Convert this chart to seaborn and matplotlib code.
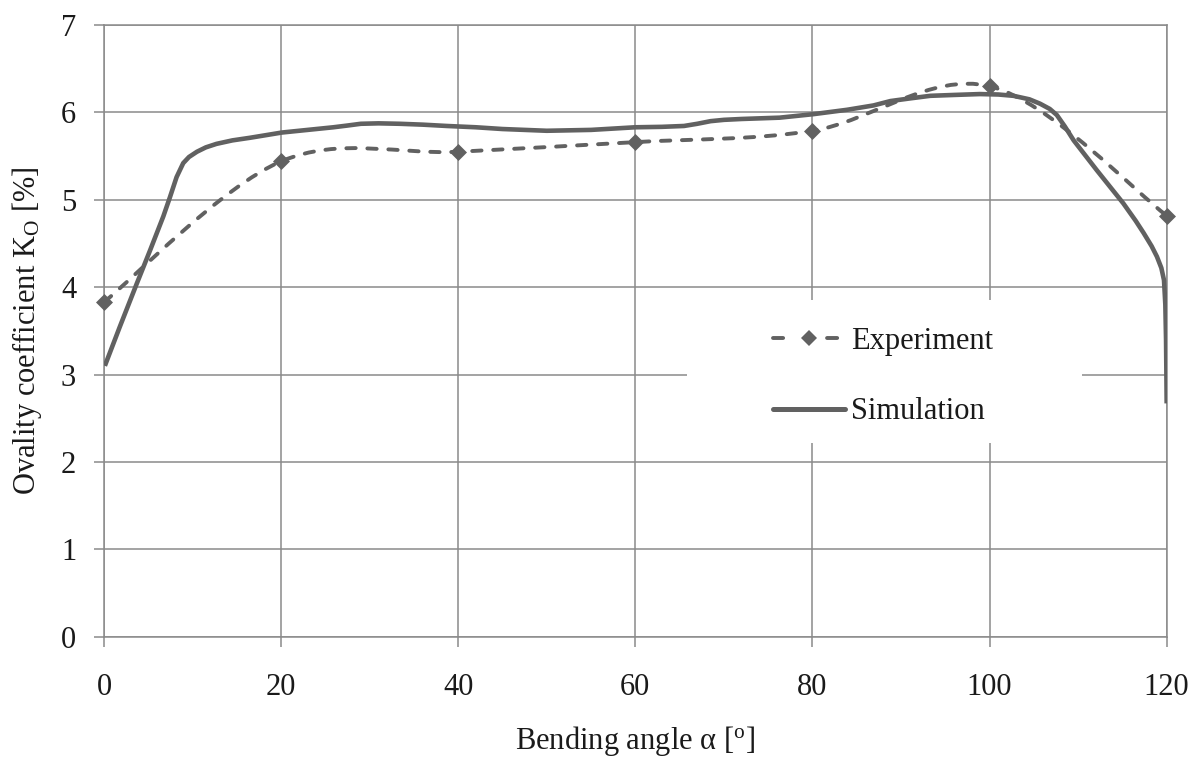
import numpy as np
import pandas as pd
import matplotlib
matplotlib.use("Agg")
import matplotlib.pyplot as plt
from matplotlib.path import Path
from matplotlib.patches import PathPatch, Rectangle
from matplotlib.lines import Line2D
import seaborn as sns

# ---------------- data ----------------
exp_angle = [0, 20, 40, 60, 80, 100, 120]
exp_ko = [3.83, 5.44, 5.55, 5.66, 5.79, 6.30, 4.82]

sim_angle = [0.1, 1.8, 3.7, 5.2, 6.7, 7.45, 8.2, 8.95, 9.6, 10.5, 11.5, 12.7,
             14.5, 16.5, 20.1, 23.0, 25.9, 27.5, 29.0, 31.0, 33.4, 36.0, 38.7,
             42.0, 45.0, 50.0, 55.0, 60.0, 63.0, 65.5, 67.0, 68.5, 70.0, 72.0,
             76.3, 80.1, 83.9, 86.9, 88.8, 91.0, 93.3, 96.0, 98.9, 101.0, 102.7,
             104.5, 105.7, 106.8, 107.6, 108.5, 109.5, 112.1, 115.1, 116.5,
             117.4, 118.3, 118.9, 119.4, 119.7, 119.85, 119.93, 119.97, 120.0]
sim_ko = [3.10, 3.55, 4.04, 4.42, 4.81, 5.03, 5.26, 5.42, 5.49, 5.55, 5.60, 5.64,
          5.68, 5.71, 5.77, 5.80, 5.83, 5.85, 5.87, 5.875, 5.87, 5.86, 5.845,
          5.83, 5.81, 5.79, 5.80, 5.83, 5.835, 5.845, 5.87, 5.90, 5.915, 5.925,
          5.94, 5.98, 6.03, 6.08, 6.13, 6.16, 6.19, 6.20, 6.21, 6.205, 6.19,
          6.15, 6.10, 6.04, 5.97, 5.84, 5.68, 5.34, 4.96, 4.76,
          4.62, 4.47, 4.35, 4.22, 4.08, 3.80, 3.40, 3.00, 2.67]

x_ticks = [0, 20, 40, 60, 80, 100, 120]
y_ticks = [0, 1, 2, 3, 4, 5, 6, 7]
series_names = ["Experiment", "Simulation"]
x_label = "Bending angle \u03b1 [$^{\\mathregular{o}}$]"
y_label = "Ovality coefficient K$_{\\mathregular{O}}$ [%]"

# ---------------- style ----------------
sns.set_theme(style="white")
plt.rcParams["font.family"] = ["Liberation Serif", "DejaVu Serif"]
plt.rcParams["mathtext.fontset"] = "custom"
plt.rcParams["mathtext.rm"] = "Liberation Serif"
plt.rcParams["mathtext.it"] = "Liberation Serif:italic"

LINE = "#616161"
GRID = "#8a8a8a"
TEXT = "#1a1a1a"
FS = 22
DASH = (0, (2.4, 3.0))
LEG_DASH = (0, (2.6, 11.3))

fig = plt.figure(figsize=(12.02, 7.61), dpi=100)
ax = fig.add_axes([0.0865, 0.1633, 0.8841, 0.8038])
ax.set_axisbelow(True)

# Smoothed (Excel-style Bezier) dashed curve through the experiment points
def smooth_path(xs, ys):
    pts = np.column_stack([xs, ys]).astype(float)
    n = len(pts)
    verts = [pts[0]]
    codes = [Path.MOVETO]
    for i in range(n - 1):
        p0 = pts[i - 1] if i > 0 else pts[i]
        p1 = pts[i]
        p2 = pts[i + 1]
        p3 = pts[i + 2] if i + 2 < n else pts[i + 1]
        c1 = p1 + (p2 - p0) / 6.0
        c2 = p2 - (p3 - p1) / 6.0
        verts += [c1, c2, p2]
        codes += [Path.CURVE4] * 3
    return Path(verts, codes)

exp_df = pd.DataFrame({"angle": exp_angle, "ko": exp_ko})
sim_df = pd.DataFrame({"angle": sim_angle, "ko": sim_ko})

patch = PathPatch(smooth_path(exp_angle, exp_ko), facecolor="none", edgecolor=LINE,
                  lw=2.8, linestyle=DASH, capstyle="round",
                  transform=ax.transData, zorder=3)
ax.add_patch(patch)
sns.scatterplot(data=exp_df, x="angle", y="ko", marker="D", s=75, color=LINE,
                edgecolor=LINE, linewidth=0, ax=ax, zorder=4, clip_on=False)
sns.lineplot(data=sim_df, x="angle", y="ko", sort=False, estimator=None,
             color=LINE, lw=3.3, ax=ax, zorder=5, solid_capstyle="butt",
             solid_joinstyle="round")

ax.set_xlim(0, 120)
ax.set_ylim(0, 7)
ax.set_xticks(x_ticks)
ax.set_yticks(y_ticks)
ax.set_xticklabels([str(v) for v in x_ticks])
ax.set_yticklabels([str(v) for v in y_ticks])
ax.grid(True, color=GRID, lw=1.1)
for s in ax.spines.values():
    s.set_visible(True)
    s.set_color(GRID)
    s.set_linewidth(1.1)
ax.tick_params(axis="x", which="both", bottom=True, top=False, direction="out",
               length=7, width=1.1, color=GRID, labelsize=FS, labelcolor=TEXT, pad=19)
ax.tick_params(axis="y", which="both", left=True, right=False, direction="out",
               length=7, width=1.1, color=GRID, labelsize=FS, labelcolor=TEXT, pad=13)

ax.set_xlabel(x_label, fontsize=FS, color=TEXT)
ax.set_ylabel(y_label, fontsize=FS, color=TEXT)
ax.xaxis.set_label_coords(0.5, -0.143)
ax.yaxis.set_label_coords(-0.056, 0.5)

# white legend area covering the gridlines
ax.add_patch(Rectangle((0.549, 0.317), 0.371, 0.233, transform=ax.transAxes,
                       facecolor="white", edgecolor="none", zorder=1.5))
handles = [
    Line2D([], [], color=LINE, lw=2.8, linestyle=LEG_DASH,
           dash_capstyle="round", marker="D", markersize=8.5, markeredgewidth=0),
    Line2D([], [], color=LINE, lw=3.6),
]
leg = ax.legend(handles, series_names, loc="center left",
                bbox_to_anchor=(0.6295, 0.425), frameon=False, fontsize=FS,
                handlelength=2.35, handletextpad=0.2, labelspacing=1.35,
                borderpad=0, numpoints=1, borderaxespad=0)
for t in leg.get_texts():
    t.set_color(TEXT)

fig.savefig("out.png", dpi=100)
